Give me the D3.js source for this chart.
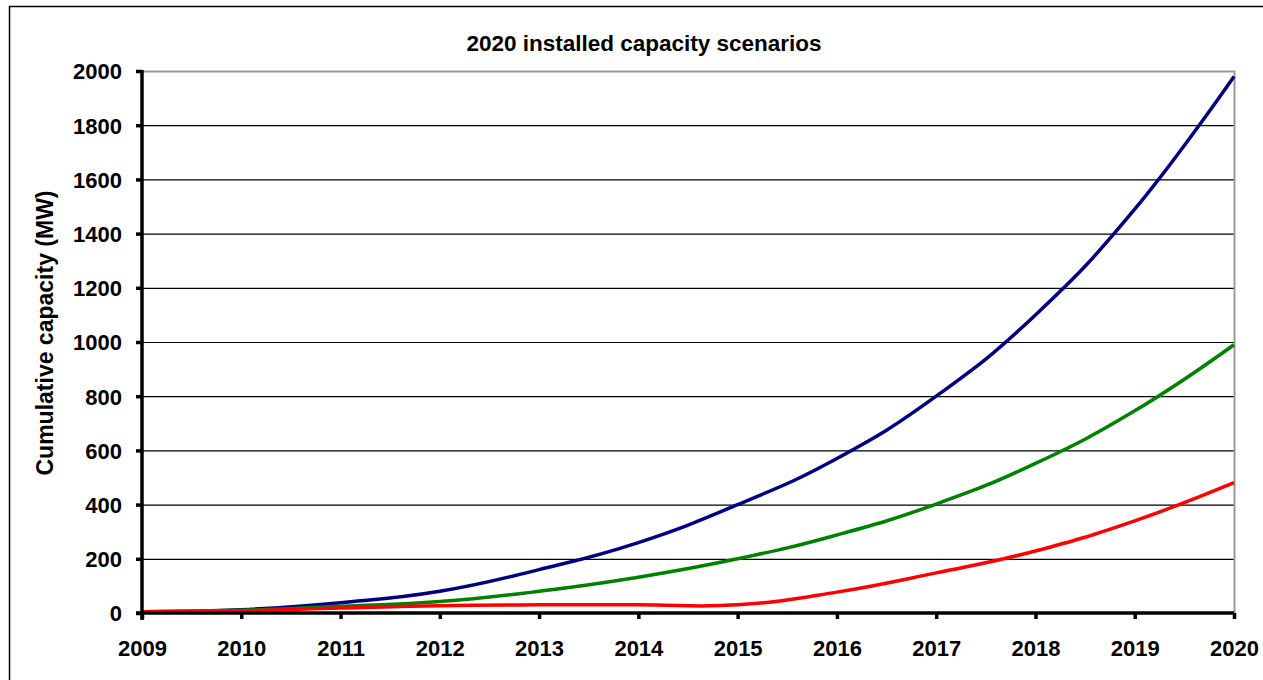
<!DOCTYPE html>
<html>
<head>
<meta charset="utf-8">
<script src="https://cdn.jsdelivr.net/npm/d3@7"></script>
<style>
  body { margin: 0; background: #fff; }
  text { font-family: Arial, "Liberation Sans", sans-serif; font-weight: bold; fill: #000; }
</style>
</head>
<body>
<svg id="chart" width="1263" height="680"></svg>
<script>
// data
const years = [2009, 2010, 2011, 2012, 2013, 2014, 2015, 2016, 2017, 2018, 2019, 2020];
const highScenario = [5, 12, 38, 80, 160, 260, 400, 570, 800, 1100, 1490, 1980];
const midScenario = [5, 10, 25, 42, 80, 132, 200, 288, 402, 552, 746, 990];
const lowScenario = [5, 8, 18, 27, 30, 30, 30, 77, 148, 229, 340, 481];
const yTicks = [0, 200, 400, 600, 800, 1000, 1200, 1400, 1600, 1800, 2000];

const series = [
  { name: "high", values: highScenario, color: "#000080" },
  { name: "mid", values: midScenario, color: "#008000" },
  { name: "low", values: lowScenario, color: "#ff0000" }
];

const svg = d3.select("#chart");
const plotLeft = 142, plotRight = 1234, plotTop = 71, plotBottom = 613;

const x = d3.scaleLinear().domain([2009, 2020]).range([plotLeft, plotRight]);
const y = d3.scaleLinear().domain([0, 2000]).range([plotBottom, plotTop]);

// outer frame, cut off at right and bottom like the original
svg.append("rect")
  .attr("x", 9.5).attr("y", 6.5)
  .attr("width", 1400).attr("height", 800)
  .attr("fill", "none").attr("stroke", "#000").attr("stroke-width", 1.5);

// title
svg.append("text")
  .attr("x", 644).attr("y", 51)
  .attr("text-anchor", "middle")
  .style("font-size", "22.5px")
  .text("2020 installed capacity scenarios");

// gridlines
svg.append("g").selectAll("line")
  .data(yTicks.filter(d => d > 0 && d < 2000))
  .enter().append("line")
    .attr("x1", plotLeft).attr("x2", plotRight)
    .attr("y1", d => y(d) + 0.5).attr("y2", d => y(d) + 0.5)
    .attr("stroke", "#000").attr("stroke-width", 1.2);

// plot border top and right in grey
svg.append("path")
  .attr("d", `M${plotLeft},${plotTop + 0.5}H${plotRight + 0.5}V${plotBottom}`)
  .attr("fill", "none").attr("stroke", "#999").attr("stroke-width", 2);

// lines
const line = d3.line()
  .x((d, i) => x(years[i]))
  .y(d => y(d))
  .curve(d3.curveCardinal.tension(-0.3));

svg.append("g").selectAll("path")
  .data(series)
  .enter().append("path")
    .attr("d", d => line(d.values))
    .attr("fill", "none")
    .attr("stroke", d => d.color)
    .attr("stroke-width", 3.5)
    .attr("stroke-linejoin", "round");

// y axis
const yAxis = d3.axisLeft(y).tickValues(yTicks).tickSize(6).tickPadding(14).tickFormat(d3.format("d"));
const gy = svg.append("g").attr("transform", `translate(${plotLeft},0)`).call(yAxis);
gy.select(".domain").attr("stroke-width", 3.5).attr("d", `M0,${plotTop - 1}V${plotBottom + 7}`);
gy.selectAll(".tick line").attr("stroke-width", 3.5);
gy.selectAll(".tick text").style("font-size", "22px").attr("font-family", null).attr("dy", "0.36em");

// x axis
const xAxis = d3.axisBottom(x).tickValues(years).tickSize(6).tickPadding(21).tickFormat(d3.format("d"));
const gx = svg.append("g").attr("transform", `translate(0,${plotBottom})`).call(xAxis);
gx.select(".domain").attr("stroke-width", 3.5).attr("d", `M${plotLeft - 6},0H${plotRight}`);
gx.selectAll(".tick line").attr("stroke-width", 3.5);
gx.selectAll(".tick text").style("font-size", "22px").attr("font-family", null);

// y axis title
svg.append("text")
  .attr("transform", "translate(53,333) rotate(-90)")
  .attr("text-anchor", "middle")
  .style("font-size", "23px")
  .text("Cumulative capacity (MW)");
</script>
</body>
</html>
